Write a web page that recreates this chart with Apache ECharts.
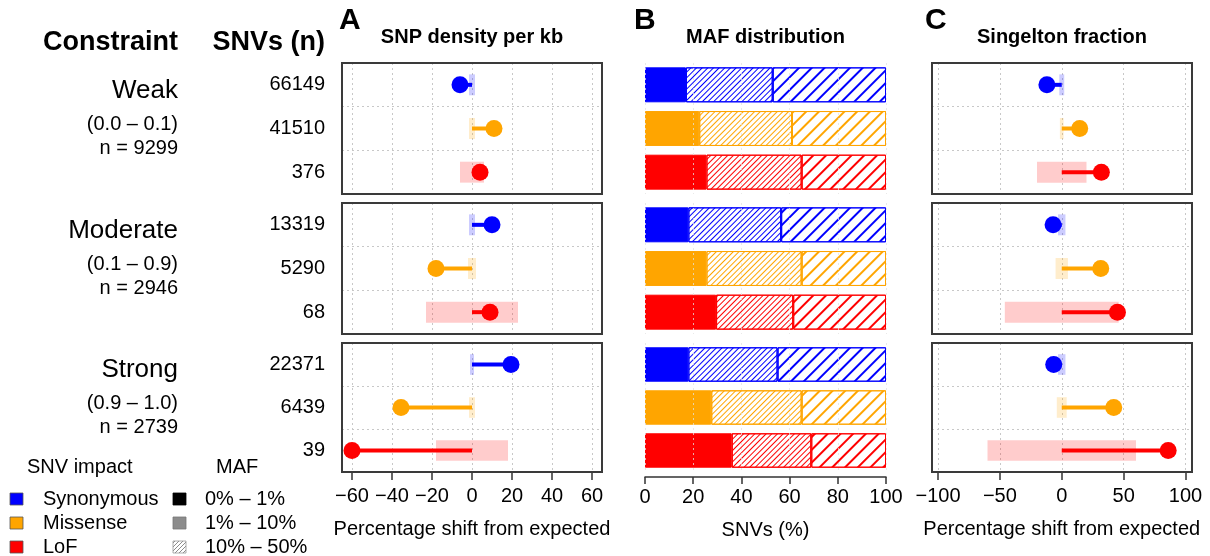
<!DOCTYPE html>
<html>
<head>
<meta charset="utf-8">
<script src="https://cdn.jsdelivr.net/npm/echarts@6/dist/echarts.min.js"></script>
<style>html,body{margin:0;padding:0;background:#fff;}#chart{width:1210px;height:556px;}</style>
</head>
<body>
<div id="chart"></div>
<script>
// ---------- data ----------
const impacts = ['Synonymous', 'Missense', 'LoF'];
const impactColors = ['#0000FF', '#FFA500', '#FF0000'];
const ciColors = ['rgba(0,0,255,0.2)', 'rgba(255,165,0,0.2)', 'rgba(255,0,0,0.2)'];
const constraints = ['Weak', 'Moderate', 'Strong'];
const constraintRanges = ['(0.0 \u2013 0.1)', '(0.1 \u2013 0.9)', '(0.9 \u2013 1.0)'];
const geneCounts = [9299, 2946, 2739];
const snvCounts = [[66149, 41510, 376], [13319, 5290, 68], [22371, 6439, 39]];
// A: SNP density per kb (percentage shift from expected) and expected range half-width
const densityShift = [[-6, 11, 4], [10, -18, 9], [19.5, -35.5, -60]];
const densityCI = [[1.5, 1.5, 6], [1.5, 2, 23], [1, 1.5, 18]];
// B: MAF distribution (% of SNVs per MAF bin)
const maf0to1 = [[17, 22.5, 25.5], [18, 25.5, 29.5], [18, 27.5, 36]];
const maf1to10 = [[36, 38.5, 39.5], [38.5, 39.5, 32], [37, 37.5, 33]];
const maf10to50 = [[47, 39, 35], [43.5, 35, 38.5], [45, 35, 31]];
const mafBins = ['0% \u2013 1%', '1% \u2013 10%', '10% \u2013 50%'];
// C: singleton fraction (percentage shift from expected) and expected range half-width
const singletonShift = [[-12, 14.5, 32], [-7, 31.5, 45], [-6.5, 42, 86]];
const singletonCI = [[2, 1.5, 20], [3, 5, 46], [3, 4, 60]];
const densityTicks = { min: -60, max: 60, interval: 20 };
const mafTicks = { min: 0, max: 100, interval: 20 };
const singletonTicks = { min: -100, max: 100, interval: 50 };

// ---------- layout ----------
const FONT = '"Liberation Sans", Arial, Helvetica, sans-serif';
const T = [63, 203, 343], H = [131, 131, 129];
const A = { left: 352, width: 240, frameLeft: 342, frameWidth: 260 };
const B = { left: 645, width: 241 };
const C = { left: 938, width: 247.5, frameLeft: 932, frameWidth: 260 };
const TXT = '#000';

function minusFmt(v) { return v < 0 ? '\u2212' + Math.abs(v) : String(v); }

function lollipop(params, api) {
  const v = api.value(0), c = api.value(1), ci = api.value(2);
  const bh = api.size([0, 1])[1];
  const p0 = api.coord([0, c]), p1 = api.coord([v, c]);
  const l = api.coord([-ci, c]), r = api.coord([ci, c]);
  const h = bh * 0.48;
  return {
    type: 'group', children: [
      { type: 'rect', shape: { x: l[0], y: l[1] - h / 2, width: r[0] - l[0], height: h }, style: { fill: ciColors[c] } },
      { type: 'line', shape: { x1: p0[0], y1: p0[1], x2: p1[0], y2: p1[1] }, style: { stroke: impactColors[c], lineWidth: 4 } },
      { type: 'circle', shape: { cx: p1[0], cy: p1[1], r: 8.5 }, style: { fill: impactColors[c] } }
    ]
  };
}

const grid = [], xAxis = [], yAxis = [], series = [];
const dotted = { show: true, lineStyle: { type: [2, 3], color: '#c8c8c8', width: 1 } };

function addLollipopPanel(P, ticks, values, cis, showCounts) {
  for (let p = 0; p < 3; p++) {
    const last = p === 2;
    // frame grid (box drawn above grid lines)
    let gi = grid.length;
    grid.push({ left: P.frameLeft, width: P.frameWidth, top: T[p], height: H[p], show: true, z: 6,
      backgroundColor: 'transparent', borderColor: '#3a3a3a', borderWidth: 2 });
    xAxis.push({ gridIndex: gi, type: 'value', min: 0, max: 1, show: false });
    yAxis.push({ gridIndex: gi, type: 'category', data: impacts, inverse: true,
      axisLine: { show: false }, axisTick: { show: false }, axisLabel: { show: false }, splitLine: dotted });
    // data grid
    gi = grid.length;
    grid.push({ left: P.left, width: P.width, top: T[p], height: H[p] });
    const xi = xAxis.length;
    xAxis.push({ gridIndex: gi, type: 'value', min: ticks.min, max: ticks.max, interval: ticks.interval,
      splitLine: dotted, axisLine: { show: false },
      axisTick: { show: last, inside: false, length: 8, lineStyle: { color: '#333', width: 1.5 } },
      axisLabel: { show: last, fontSize: 20, color: TXT, margin: 14, formatter: minusFmt, fontFamily: FONT },
      name: last ? 'Percentage shift from expected' : '', nameLocation: 'middle', nameGap: 47,
      nameTextStyle: { fontSize: 20, color: TXT, fontFamily: FONT } });
    const yi = yAxis.length;
    yAxis.push({ gridIndex: gi, type: 'category', data: impacts, inverse: true,
      axisLine: { show: false }, axisTick: { show: false }, splitLine: { show: false },
      axisLabel: { show: showCounts, fontSize: 20, color: TXT, margin: P.left - 325, fontFamily: FONT,
        formatter: (val, idx) => String(snvCounts[p][idx]) } });
    series.push({ type: 'custom', xAxisIndex: xi, yAxisIndex: yi, clip: false, z: 3,
      encode: { x: 0, y: 1 }, renderItem: lollipop,
      data: impacts.map((_, i) => [values[p][i], i, cis[p][i]]) });
  }
}

function decal(color, dense) {
  return dense
    ? { symbol: 'rect', symbolSize: 1, dashArrayX: [1, 0], dashArrayY: [1, 2.2], rotation: -Math.PI / 4, color: color }
    : { symbol: 'rect', symbolSize: 1, dashArrayX: [1, 0], dashArrayY: [1.5, 6.5], rotation: -Math.PI / 4, color: color };
}

function addMafPanel() {
  for (let p = 0; p < 3; p++) {
    const last = p === 2;
    const gi = grid.length;
    grid.push({ left: B.left, width: B.width, top: T[p], height: H[p] });
    const xi = xAxis.length;
    xAxis.push({ gridIndex: gi, type: 'value', min: mafTicks.min, max: mafTicks.max, interval: mafTicks.interval, z: 5,
      splitLine: { show: true, lineStyle: { type: [2, 3], color: 'rgba(225,225,225,0.75)', width: 1 } },
      axisLine: { show: last, lineStyle: { color: '#333', width: 1.5 } }, offset: last ? 5 : 0,
      axisTick: { show: last, inside: false, length: 7, lineStyle: { color: '#333', width: 1.5 } },
      axisLabel: { show: last, fontSize: 20, color: TXT, margin: 10, fontFamily: FONT },
      name: last ? 'SNVs (%)' : '', nameLocation: 'middle', nameGap: 43,
      nameTextStyle: { fontSize: 20, color: TXT, fontFamily: FONT } });
    const yi = yAxis.length;
    yAxis.push({ gridIndex: gi, type: 'category', data: impacts, inverse: true, show: false });
    const bins = [maf0to1, maf1to10, maf10to50];
    bins.forEach((bin, b) => {
      series.push({ type: 'bar', xAxisIndex: xi, yAxisIndex: yi, stack: 'maf' + p, barWidth: '80%', name: mafBins[b],
        data: impacts.map((_, i) => ({
          value: bin[p][i],
          itemStyle: b === 0
            ? { color: impactColors[i], borderColor: impactColors[i], borderWidth: 1 }
            : { color: '#fff', borderColor: impactColors[i], borderWidth: 1, decal: decal(impactColors[i], b === 1) }
        })) });
    });
  }
}

addLollipopPanel(A, densityTicks, densityShift, densityCI, true);
addMafPanel();
addLollipopPanel(C, singletonTicks, singletonShift, singletonCI, false);

// ---------- texts & legend ----------
function txt(text, x, y, size, align, bold) {
  return { type: 'text', silent: true, style: { text: text, x: x, y: y, fill: TXT, textAlign: align || 'left',
    textVerticalAlign: 'middle', font: (bold ? 'bold ' : '') + size + 'px ' + FONT } };
}
function hatchPattern(color, gap, lw) {
  const cv = document.createElement('canvas'); cv.width = gap; cv.height = gap;
  const ctx = cv.getContext('2d'); ctx.fillStyle = '#fff'; ctx.fillRect(0, 0, gap, gap);
  ctx.strokeStyle = color; ctx.lineWidth = lw; ctx.beginPath();
  ctx.moveTo(-1, gap + 1); ctx.lineTo(gap + 1, -1);
  ctx.moveTo(-1, 1); ctx.lineTo(1, -1);
  ctx.moveTo(gap - 1, gap + 1); ctx.lineTo(gap + 1, gap - 1);
  ctx.stroke();
  return { type: 'pattern', image: cv, repeat: 'repeat' };
}

const graphic = [];
graphic.push(txt('Constraint', 178, 43, 27, 'right', true));
graphic.push(txt('SNVs (n)', 325, 43, 27, 'right', true));
graphic.push(txt('A', 339, 21, 30, 'left', true));
graphic.push(txt('B', 634, 21, 30, 'left', true));
graphic.push(txt('C', 925, 21, 30, 'left', true));
graphic.push(txt('SNP density per kb', 472, 37, 20, 'center', true));
graphic.push(txt('MAF distribution', 765.5, 37, 20, 'center', true));
graphic.push(txt('Singelton fraction', 1062, 37, 20, 'center', true));
for (let p = 0; p < 3; p++) {
  const mid = T[p] + H[p] / 2;
  graphic.push(txt(constraints[p], 178, mid - 38, 26, 'right'));
  graphic.push(txt(constraintRanges[p], 178, mid - 4, 20, 'right'));
  graphic.push(txt('n = ' + geneCounts[p], 178, mid + 20, 20, 'right'));
}
graphic.push(txt('SNV impact', 27, 467, 20, 'left'));
graphic.push(txt('MAF', 216, 467, 20, 'left'));
const legendRows = [499, 523, 547];
const mafFills = ['#000000', '#8c8c8c', hatchPattern('#8c8c8c', 4, 1)];
const mafStrokes = ['#000000', '#777777', '#999999'];
for (let i = 0; i < 3; i++) {
  graphic.push({ type: 'rect', silent: true, shape: { x: 10, y: legendRows[i] - 6, width: 13, height: 12 },
    style: { fill: impactColors[i], stroke: '#555', lineWidth: 0.8 } });
  graphic.push(txt(impacts[i], 43, legendRows[i], 20, 'left'));
  graphic.push({ type: 'rect', silent: true, shape: { x: 173, y: legendRows[i] - 6, width: 13, height: 12 },
    style: { fill: mafFills[i], stroke: mafStrokes[i], lineWidth: 0.8 } });
  graphic.push(txt(mafBins[i], 205, legendRows[i], 20, 'left'));
}

const chart = echarts.init(document.getElementById('chart'), null, { renderer: 'canvas' });
chart.setOption({
  animation: false,
  backgroundColor: '#fff',
  textStyle: { fontFamily: FONT },
  grid: grid, xAxis: xAxis, yAxis: yAxis, series: series, graphic: graphic
});
</script>
</body>
</html>
